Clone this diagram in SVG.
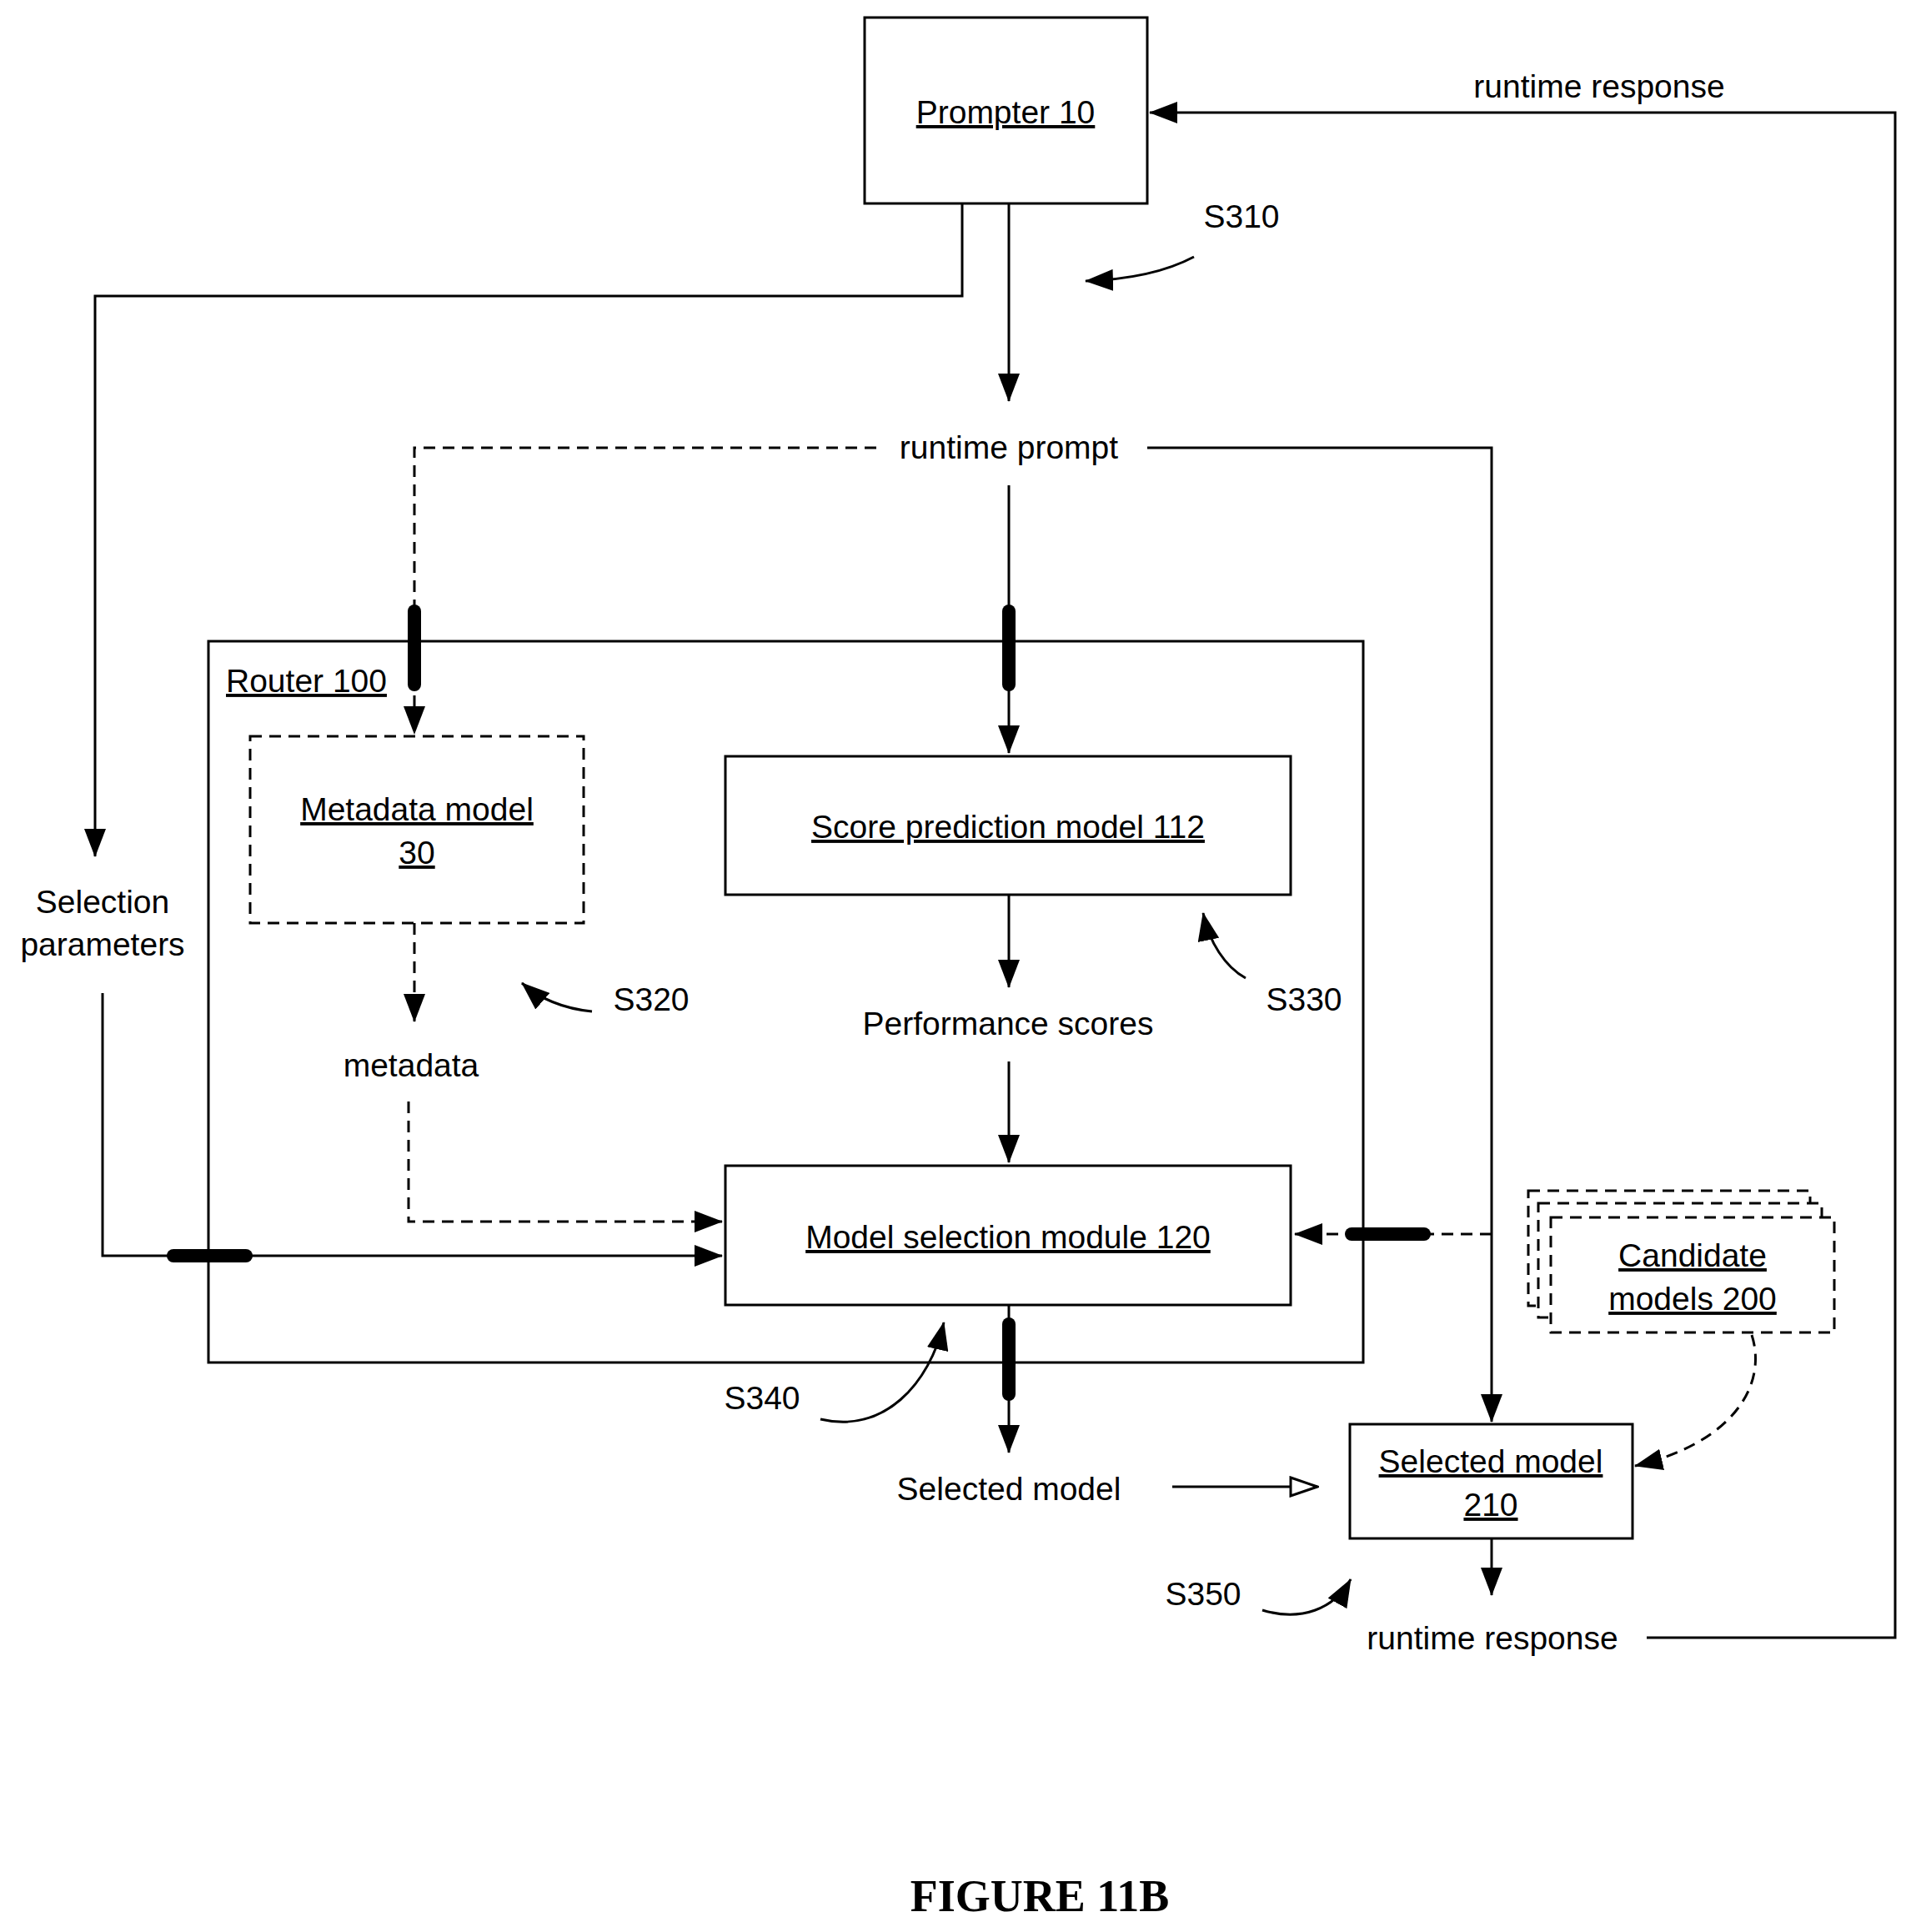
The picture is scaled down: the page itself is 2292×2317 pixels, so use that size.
<svg xmlns="http://www.w3.org/2000/svg" width="2292" height="2317" viewBox="0 0 2292 2317">
<style>
text{font-family:"Liberation Sans",Arial,sans-serif;font-size:39px;fill:#000;text-anchor:middle}
.u{text-decoration:underline}
.box{fill:#fff;stroke:#000;stroke-width:3}
.dbox{fill:#fff;stroke:#000;stroke-width:3;stroke-dasharray:14 9}
.ln{fill:none;stroke:#000;stroke-width:3}
.dl{fill:none;stroke:#000;stroke-width:3;stroke-dasharray:14 9}
.pill{stroke:#000;stroke-width:16;stroke-linecap:round}
</style>
<defs>
<marker id="a" markerWidth="12" markerHeight="12" refX="11" refY="6" orient="auto" markerUnits="userSpaceOnUse" viewBox="0 0 12 12"><path d="M0,0L12,6L0,12z" fill="#000"/></marker>
<marker id="ab" markerWidth="34" markerHeight="26" refX="33" refY="13" orient="auto" markerUnits="userSpaceOnUse"><path d="M0,0L34,13L0,26z" fill="#000"/></marker>
<marker id="ah" markerWidth="36" markerHeight="26" refX="34" refY="13" orient="auto" markerUnits="userSpaceOnUse"><path d="M2,2L34,13L2,24z" fill="#fff" stroke="#000" stroke-width="3"/></marker>
</defs>
<g id="router"><rect class="box" x="250" y="769" width="1385" height="865"/><text x="271" y="830" style="text-anchor:start" class="u">Router 100</text></g>
<g id="prompter"><rect class="box" x="1037" y="21" width="339" height="223"/><text x="1206" y="148" class="u">Prompter 10</text></g>
<g id="metadata-model"><rect class="dbox" x="300" y="883" width="400" height="224"/><text x="500" y="984" class="u">Metadata model</text><text x="500" y="1036" class="u">30</text></g>
<g id="score-model"><rect class="box" x="870" y="907" width="678" height="166"/><text x="1209" y="1005" class="u">Score prediction model 112</text></g>
<g id="selection-module"><rect class="box" x="870" y="1398" width="678" height="167"/><text x="1209" y="1497" class="u">Model selection module 120</text></g>
<g id="candidates"><rect class="dbox" x="1833" y="1428" width="338" height="138"/><rect class="dbox" x="1845" y="1443" width="340" height="137"/><rect class="dbox" x="1860" y="1460" width="340" height="138"/><text x="2030" y="1519" class="u">Candidate</text><text x="2030" y="1571" class="u">models 200</text></g>
<g id="selected-model"><rect class="box" x="1619" y="1708" width="339" height="137"/><text x="1788" y="1766" class="u">Selected model</text><text x="1788" y="1818" class="u">210</text></g>
<g id="labels">
<text x="1918" y="117">runtime response</text>
<text x="1210" y="550">runtime prompt</text>
<text x="123" y="1095">Selection</text><text x="123" y="1146">parameters</text>
<text x="1209" y="1241">Performance scores</text>
<text x="493" y="1291">metadata</text>
<text x="1210" y="1799">Selected model</text>
<text x="1790" y="1978">runtime response</text>
<text x="1489" y="273">S310</text><text x="781" y="1212">S320</text><text x="1564" y="1212">S330</text><text x="914" y="1690">S340</text><text x="1443" y="1925">S350</text>
<text x="1247" y="2292" style="font-family:'Liberation Serif',serif;font-weight:bold;font-size:54px">FIGURE 11B</text>
</g>
<g id="connectors">
<path class="ln" d="M1975,1964H2273V135H1379" marker-end="url(#ab)"/>
<path class="ln" d="M1210,244V481" marker-end="url(#ab)"/>
<path class="ln" d="M1154,244V355H114V1027" marker-end="url(#ab)"/>
<path class="ln" d="M123,1191V1506H866" marker-end="url(#ab)"/>
<path class="dl" d="M1051,537H497V880" marker-end="url(#ab)"/>
<path class="ln" d="M1376,537H1789V1705" marker-end="url(#ab)"/>
<path class="ln" d="M1210,582V903" marker-end="url(#ab)"/>
<path class="ln" d="M1210,1073V1184" marker-end="url(#ab)"/>
<path class="ln" d="M1210,1273V1394" marker-end="url(#ab)"/>
<path class="dl" d="M497,1107V1225" marker-end="url(#ab)"/>
<path class="dl" d="M490,1321V1465H866" marker-end="url(#ab)"/>
<path class="dl" d="M1789,1480H1553" marker-end="url(#ab)"/>
<path class="dl" d="M2101,1601C2120,1660 2080,1730 1961,1758" marker-end="url(#ab)"/>
<path class="ln" d="M1210,1565V1742" marker-end="url(#ab)"/>
<path class="ln" d="M1406,1783H1580" marker-end="url(#ah)"/>
<path class="ln" d="M1789,1845V1913" marker-end="url(#ab)"/>
<path class="ln" d="M1432,308C1400,325 1360,335 1302,337" marker-end="url(#ab)"/>
<path class="ln" d="M710,1213C680,1210 650,1200 626,1179" marker-end="url(#ab)"/>
<path class="ln" d="M1494,1173C1470,1160 1450,1130 1443,1095" marker-end="url(#ab)"/>
<path class="ln" d="M984,1702C1060,1720 1115,1660 1132,1586" marker-end="url(#ab)"/>
<path class="ln" d="M1514,1931C1560,1945 1600,1930 1620,1894" marker-end="url(#ab)"/>
<line class="pill" x1="497" y1="733" x2="497" y2="821"/>
<line class="pill" x1="1210" y1="733" x2="1210" y2="821"/>
<line class="pill" x1="208" y1="1506" x2="295" y2="1506"/>
<line class="pill" x1="1621" y1="1480" x2="1708" y2="1480"/>
<line class="pill" x1="1210" y1="1588" x2="1210" y2="1672"/>
</g>
</svg>
